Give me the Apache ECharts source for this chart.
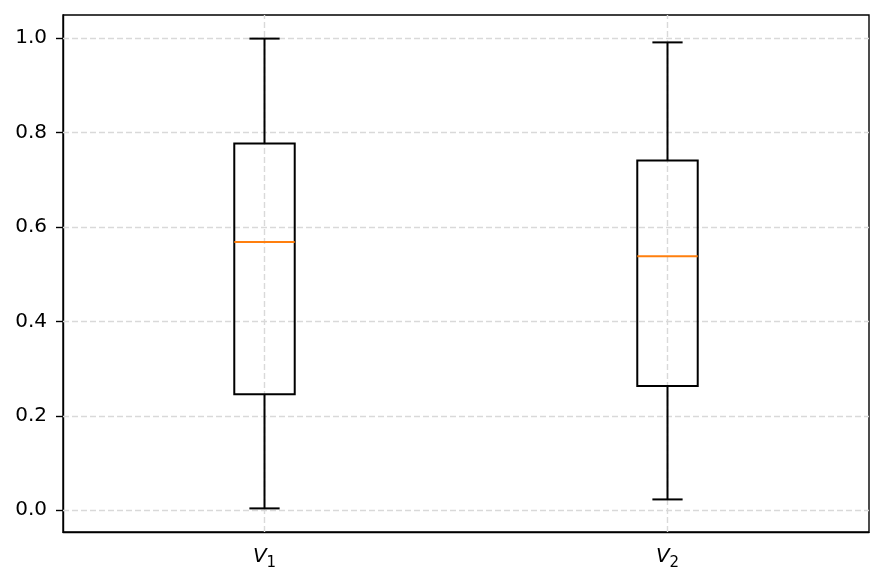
<!DOCTYPE html>
<html>
<head>
<meta charset="utf-8">
<script src="https://cdn.jsdelivr.net/npm/echarts@6/dist/echarts.min.js"></script>
<style>
  html, body { margin: 0; padding: 0; background: #fff; }
  #chart { width: 885px; height: 585px; }
</style>
</head>
<body>
<div id="chart"></div>
<script>
// box plot summary for each variable
const categories = ['V1', 'V2'];
const mins = [0.004, 0.023];
const q1s = [0.246, 0.263];
const medians = [0.568, 0.538];
const q3s = [0.777, 0.741];
const maxs = [0.999, 0.991];
const yTicks = [0, 0.2, 0.4, 0.6, 0.8, 1.0];

const boxData = categories.map((c, i) => [i, mins[i], q1s[i], medians[i], q3s[i], maxs[i]]);

const chart = echarts.init(document.getElementById('chart'));

const gridLine = { type: [6, 3], color: '#d9d9d9', width: 1.4 };

const renderBox = (params, api) => {
  const idx = api.value(0);
  const pMin = api.coord([idx, api.value(1)]);
  const pQ1 = api.coord([idx, api.value(2)]);
  const pMed = api.coord([idx, api.value(3)]);
  const pQ3 = api.coord([idx, api.value(4)]);
  const pMax = api.coord([idx, api.value(5)]);
  const band = api.size([1, 0])[0];
  const bw = band * 0.15;
  const cw = bw / 2;
  const x = pMed[0];
  const black = { stroke: '#000', lineWidth: 2, fill: null };
  return {
    type: 'group',
    children: [
      { type: 'line', shape: { x1: x, y1: pQ3[1], x2: x, y2: pMax[1] }, style: black },
      { type: 'line', shape: { x1: x, y1: pQ1[1], x2: x, y2: pMin[1] }, style: black },
      { type: 'line', shape: { x1: x - cw / 2, y1: pMax[1], x2: x + cw / 2, y2: pMax[1] }, style: black },
      { type: 'line', shape: { x1: x - cw / 2, y1: pMin[1], x2: x + cw / 2, y2: pMin[1] }, style: black },
      { type: 'rect', shape: { x: x - bw / 2, y: pQ3[1], width: bw, height: pQ1[1] - pQ3[1] }, style: black },
      { type: 'line', shape: { x1: x - bw / 2, y1: pMed[1], x2: x + bw / 2, y2: pMed[1] },
        style: { stroke: '#ff7f0e', lineWidth: 2 } }
    ]
  };
};

const option = {
  animation: false,
  backgroundColor: '#fff',
  textStyle: { fontFamily: 'DejaVu Sans' },
  grid: {
    left: 63, top: 15, width: 806, height: 517,
    show: true, borderColor: '#000', borderWidth: 1.4, backgroundColor: 'transparent'
  },
  xAxis: {
    type: 'category',
    data: categories,
    axisLine: { onZero: false, lineStyle: { color: '#000', width: 1.4 } },
    axisTick: { alignWithLabel: true, length: 7, lineStyle: { color: '#000', width: 1.4 } },
    splitLine: { show: false },
    axisLabel: {
      margin: 15,
      color: '#000',
      formatter: (v) => '{v|V}{s|' + v.slice(1) + '}',
      rich: {
        v: { fontFamily: 'DejaVu Sans', fontStyle: 'italic', fontSize: 20, color: '#000', verticalAlign: 'top' },
        s: { fontFamily: 'DejaVu Sans', fontSize: 15, color: '#000', padding: [9, 0, 0, 0], verticalAlign: 'top' }
      }
    }
  },
  yAxis: {
    type: 'value',
    min: -0.046,
    max: 1.049,
    axisLine: { show: true, lineStyle: { color: '#000', width: 1.4 } },
    axisTick: { show: true, length: 7, customValues: yTicks, lineStyle: { color: '#000', width: 1.4 } },
    splitLine: { show: false },
    axisLabel: {
      margin: 16,
      color: '#000',
      fontSize: 20,
      fontFamily: 'DejaVu Sans',
      customValues: yTicks,
      formatter: (v) => v.toFixed(1)
    }
  },
  series: [
    {
      // grid lines only
      type: 'line',
      data: [],
      silent: true,
      z: 1,
      markLine: {
        silent: true,
        z: 1,
        symbol: 'none',
        label: { show: false },
        lineStyle: gridLine,
        data: yTicks.map(v => ({ yAxis: v })).concat(categories.map(c => ({ xAxis: c })))
      }
    },
    {
      type: 'custom',
      z: 10,
      renderItem: renderBox,
      data: boxData
    }
  ]
};

chart.setOption(option);
</script>
</body>
</html>
